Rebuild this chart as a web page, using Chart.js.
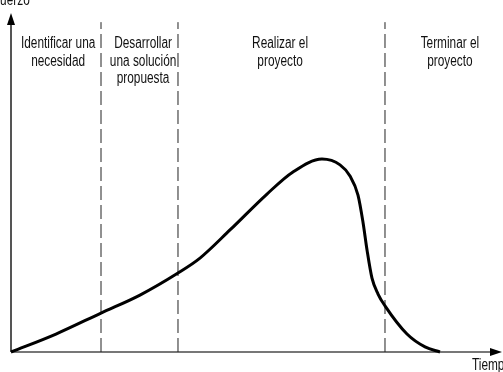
<!DOCTYPE html>
<html><head><meta charset="utf-8">
<script src="https://cdn.jsdelivr.net/npm/chart.js@4/dist/chart.umd.min.js"></script>
<style>html,body{margin:0;padding:0;background:#fff;overflow:hidden}canvas{display:block}</style>
</head><body>
<canvas id="c" width="503" height="372"></canvas>
<script>
// Curve (time, effort)
const curveX = [0, 9.16, 18.33, 26.27, 34.01, 38.49, 44.60, 52.14, 57.43, 63.34, 67.01, 69.04, 70.67, 71.69, 72.51, 73.52, 74.75, 76.17, 80.65, 84.32, 87.37];
const curveY = [0, 5.3, 11.5, 16.8, 23.3, 27.7, 36.0, 46.6, 53.1, 56.9, 55.2, 51.9, 46.3, 38.3, 30.1, 21.8, 17.1, 13.6, 5.3, 1.5, 0];
// Phase boundaries (dashed lines)
const boundaries = [18.33, 34.01, 76.17];
const boundaryTop = 97.3;
// Phase labels and centres
const phaseLabels = [
  ["Identificar una", "necesidad"],
  ["Desarrollar", "una solución", "propuesta"],
  ["Realizar el", "proyecto"],
  ["Terminar el", "proyecto"]
];
const phaseCenters = [9.6, 26.9, 54.8, 89.4];
const yTitle = "Esfuerzo";
const xTitle = "Tiempo";

const FONT = "16px 'Liberation Sans', Arial, sans-serif";
const SQUEEZE = 0.74;

const datasets = [{
  data: curveX.map((x, i) => ({x, y: curveY[i]})),
  borderColor: '#000', borderWidth: 3, pointRadius: 0,
  cubicInterpolationMode: 'monotone', fill: false, clip: false, order: 0
}];
boundaries.forEach(b => datasets.push({
  data: [{x: b, y: 0}, {x: b, y: boundaryTop}],
  borderColor: '#222', borderWidth: 1, borderDash: [14, 5], pointRadius: 0, clip: false, order: 1
}));

function squeezedText(ctx, t, x, y, align) {
  ctx.save();
  ctx.translate(x, y);
  ctx.scale(SQUEEZE, 1);
  ctx.textAlign = align;
  ctx.fillText(t, 0, 0);
  ctx.restore();
}

const decor = {
  id: 'decor',
  beforeDatasetsDraw(chart) {
    const {ctx, scales: {x, y}} = chart;
    const x0 = x.getPixelForValue(0), y0 = y.getPixelForValue(0);
    const yTop = y.getPixelForValue(100), xEnd = x.getPixelForValue(100);
    ctx.save();
    ctx.lineWidth = 2;
    ctx.strokeStyle = '#555';
    ctx.beginPath(); ctx.moveTo(x0, y0); ctx.lineTo(x0, yTop + 8); ctx.stroke();
    ctx.strokeStyle = '#777';
    ctx.beginPath(); ctx.moveTo(x0, y0); ctx.lineTo(xEnd - 8, y0); ctx.stroke();
    ctx.fillStyle = '#000';
    ctx.beginPath(); ctx.moveTo(x0, yTop); ctx.lineTo(x0 - 4, yTop + 12); ctx.lineTo(x0 + 4, yTop + 12); ctx.closePath(); ctx.fill();
    ctx.beginPath(); ctx.moveTo(xEnd, y0); ctx.lineTo(xEnd - 12, y0 - 4); ctx.lineTo(xEnd - 12, y0 + 4); ctx.closePath(); ctx.fill();
    ctx.font = FONT;
    ctx.fillStyle = '#111';
    ctx.textBaseline = 'alphabetic';
    phaseLabels.forEach((lines, i) => {
      const cx = x.getPixelForValue(phaseCenters[i]);
      lines.forEach((t, j) => squeezedText(ctx, t, cx, 48 + j * 17.5, 'center'));
    });
    squeezedText(ctx, yTitle, x0 - 28, 5, 'left');
    squeezedText(ctx, xTitle, xEnd - 30, y0 + 18, 'left');
    ctx.restore();
  }
};

new Chart(document.getElementById('c'), {
  type: 'line',
  data: {datasets},
  options: {
    responsive: false, animation: false,
    layout: {padding: {left: 11, right: 1, top: 13, bottom: 20}},
    plugins: {legend: {display: false}, tooltip: {enabled: false}},
    scales: {
      x: {type: 'linear', min: 0, max: 100, display: false},
      y: {type: 'linear', min: 0, max: 100, display: false}
    }
  },
  plugins: [decor]
});
</script>
</body></html>
